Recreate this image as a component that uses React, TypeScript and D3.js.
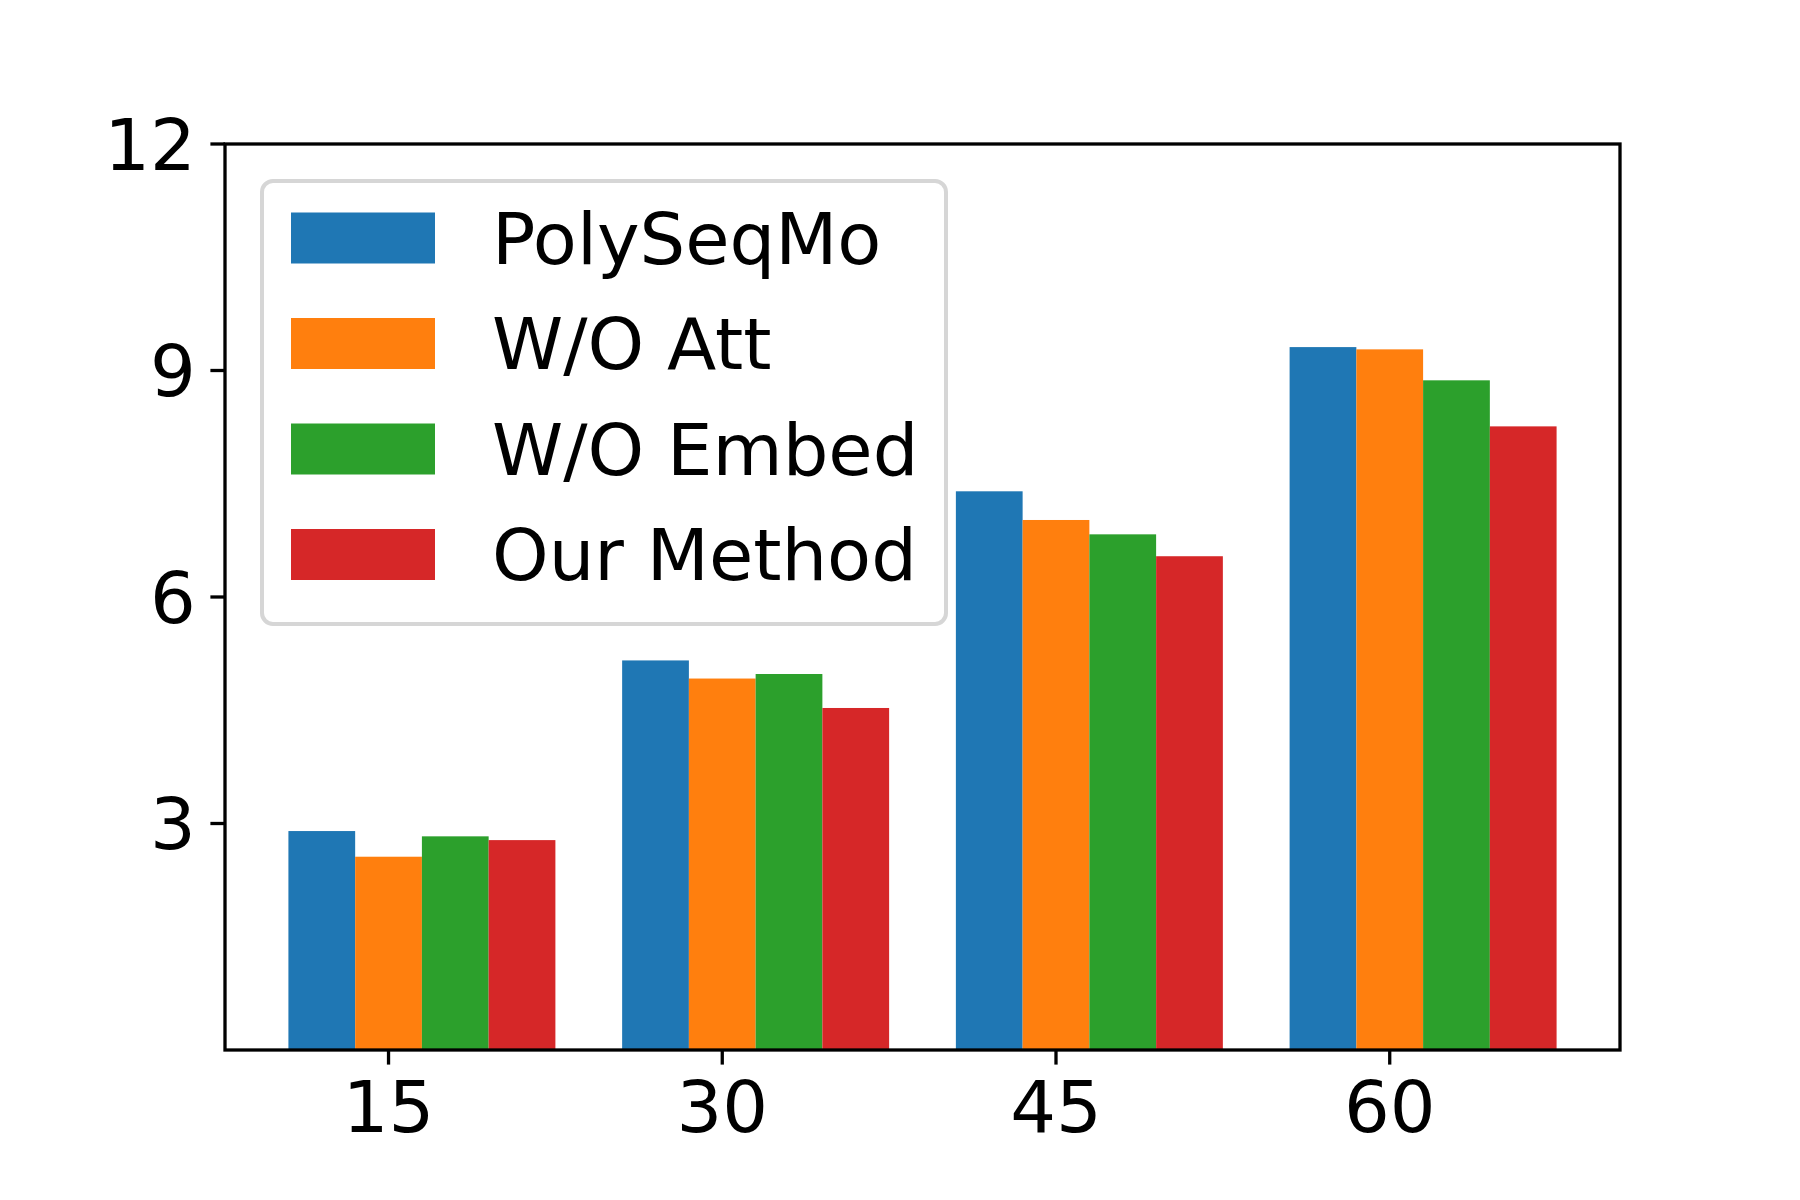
import React from 'react';
import * as d3 from 'd3';

// categories on the x axis
const categories = ['15', '30', '45', '60'];

// series names and bar heights
const seriesNames = ['PolySeqMo', 'W/O Att', 'W/O Embed', 'Our Method'];
const polySeqMo = [2.9, 5.16, 7.4, 9.31];
const woAtt = [2.56, 4.92, 7.02, 9.28];
const woEmbed = [2.83, 4.98, 6.83, 8.87];
const ourMethod = [2.78, 4.53, 6.54, 8.26];
const seriesValues = [polySeqMo, woAtt, woEmbed, ourMethod];
const seriesColors = ['#1f77b4', '#ff7f0e', '#2ca02c', '#d62728'];

// y tick labels
const yTicks = [3, 6, 9, 12];

const W = 1800;
const H = 1200;
const margin = { top: 144, right: 180, bottom: 150, left: 225 };
const barWidth = 0.2;
const fontSize = 72;
const font = '"DejaVu Sans", sans-serif';

const App: React.FC = () => {
  const x = d3.scaleLinear()
    .domain([-0.49, 3.69])
    .range([margin.left, W - margin.right]);
  const y = d3.scaleLinear()
    .domain([0, 12])
    .range([H - margin.bottom, margin.top]);

  const tickLen = 14.6;
  const pad = 14.6;
  const bottom = y(0);

  // legend layout
  const lg = { x: 262, y: 181, w: 684, h: 443, row: 105.5, first: 238 };

  return (
    <svg
      width={W}
      height={H}
      viewBox={`0 0 ${W} ${H}`}
      style={{ position: 'absolute', left: 0, top: 0, display: 'block', background: '#fff' }}
    >
      <rect x={0} y={0} width={W} height={H} fill="#fff" />

      {/* bars */}
      {seriesValues.map((vals, s) =>
        vals.map((v, i) => {
          const cx = i + (s - 1) * barWidth;
          return (
            <rect
              key={`${s}-${i}`}
              x={x(cx - barWidth / 2)}
              y={y(v)}
              width={x(cx + barWidth / 2) - x(cx - barWidth / 2)}
              height={bottom - y(v)}
              fill={seriesColors[s]}
            />
          );
        })
      )}

      {/* frame */}
      <rect
        x={x(-0.49)}
        y={y(12)}
        width={x(3.69) - x(-0.49)}
        height={bottom - y(12)}
        fill="none"
        stroke="#000"
        strokeWidth={3.3}
      />

      {/* y ticks */}
      {yTicks.map(t => (
        <g key={t}>
          <line x1={margin.left - tickLen} x2={margin.left} y1={y(t)} y2={y(t)} stroke="#000" strokeWidth={3.3} />
          <text
            x={margin.left - tickLen - pad}
            y={y(t)}
            dy="0.36em"
            textAnchor="end"
            fontFamily={font}
            fontSize={fontSize}
            fill="#000"
          >
            {t}
          </text>
        </g>
      ))}

      {/* x ticks */}
      {categories.map((c, i) => (
        <g key={c}>
          <line x1={x(i)} x2={x(i)} y1={bottom} y2={bottom + tickLen} stroke="#000" strokeWidth={3.3} />
          <text
            x={x(i)}
            y={bottom + tickLen + pad + 53}
            textAnchor="middle"
            fontFamily={font}
            fontSize={fontSize}
            fill="#000"
          >
            {c}
          </text>
        </g>
      ))}

      {/* legend */}
      <rect
        x={lg.x}
        y={lg.y}
        width={lg.w}
        height={lg.h}
        rx={11}
        fill="#fff"
        fillOpacity={0.8}
        stroke="#d6d6d6"
        strokeWidth={4}
      />
      {seriesNames.map((name, s) => {
        const cy = lg.first + s * lg.row;
        return (
          <g key={name}>
            <rect x={291} y={cy - 25.5} width={144} height={51} fill={seriesColors[s]} />
            <text
              x={492}
              y={cy}
              dy="0.36em"
              fontFamily={font}
              fontSize={fontSize}
              fill="#000"
            >
              {name}
            </text>
          </g>
        );
      })}
    </svg>
  );
};

export default App;
